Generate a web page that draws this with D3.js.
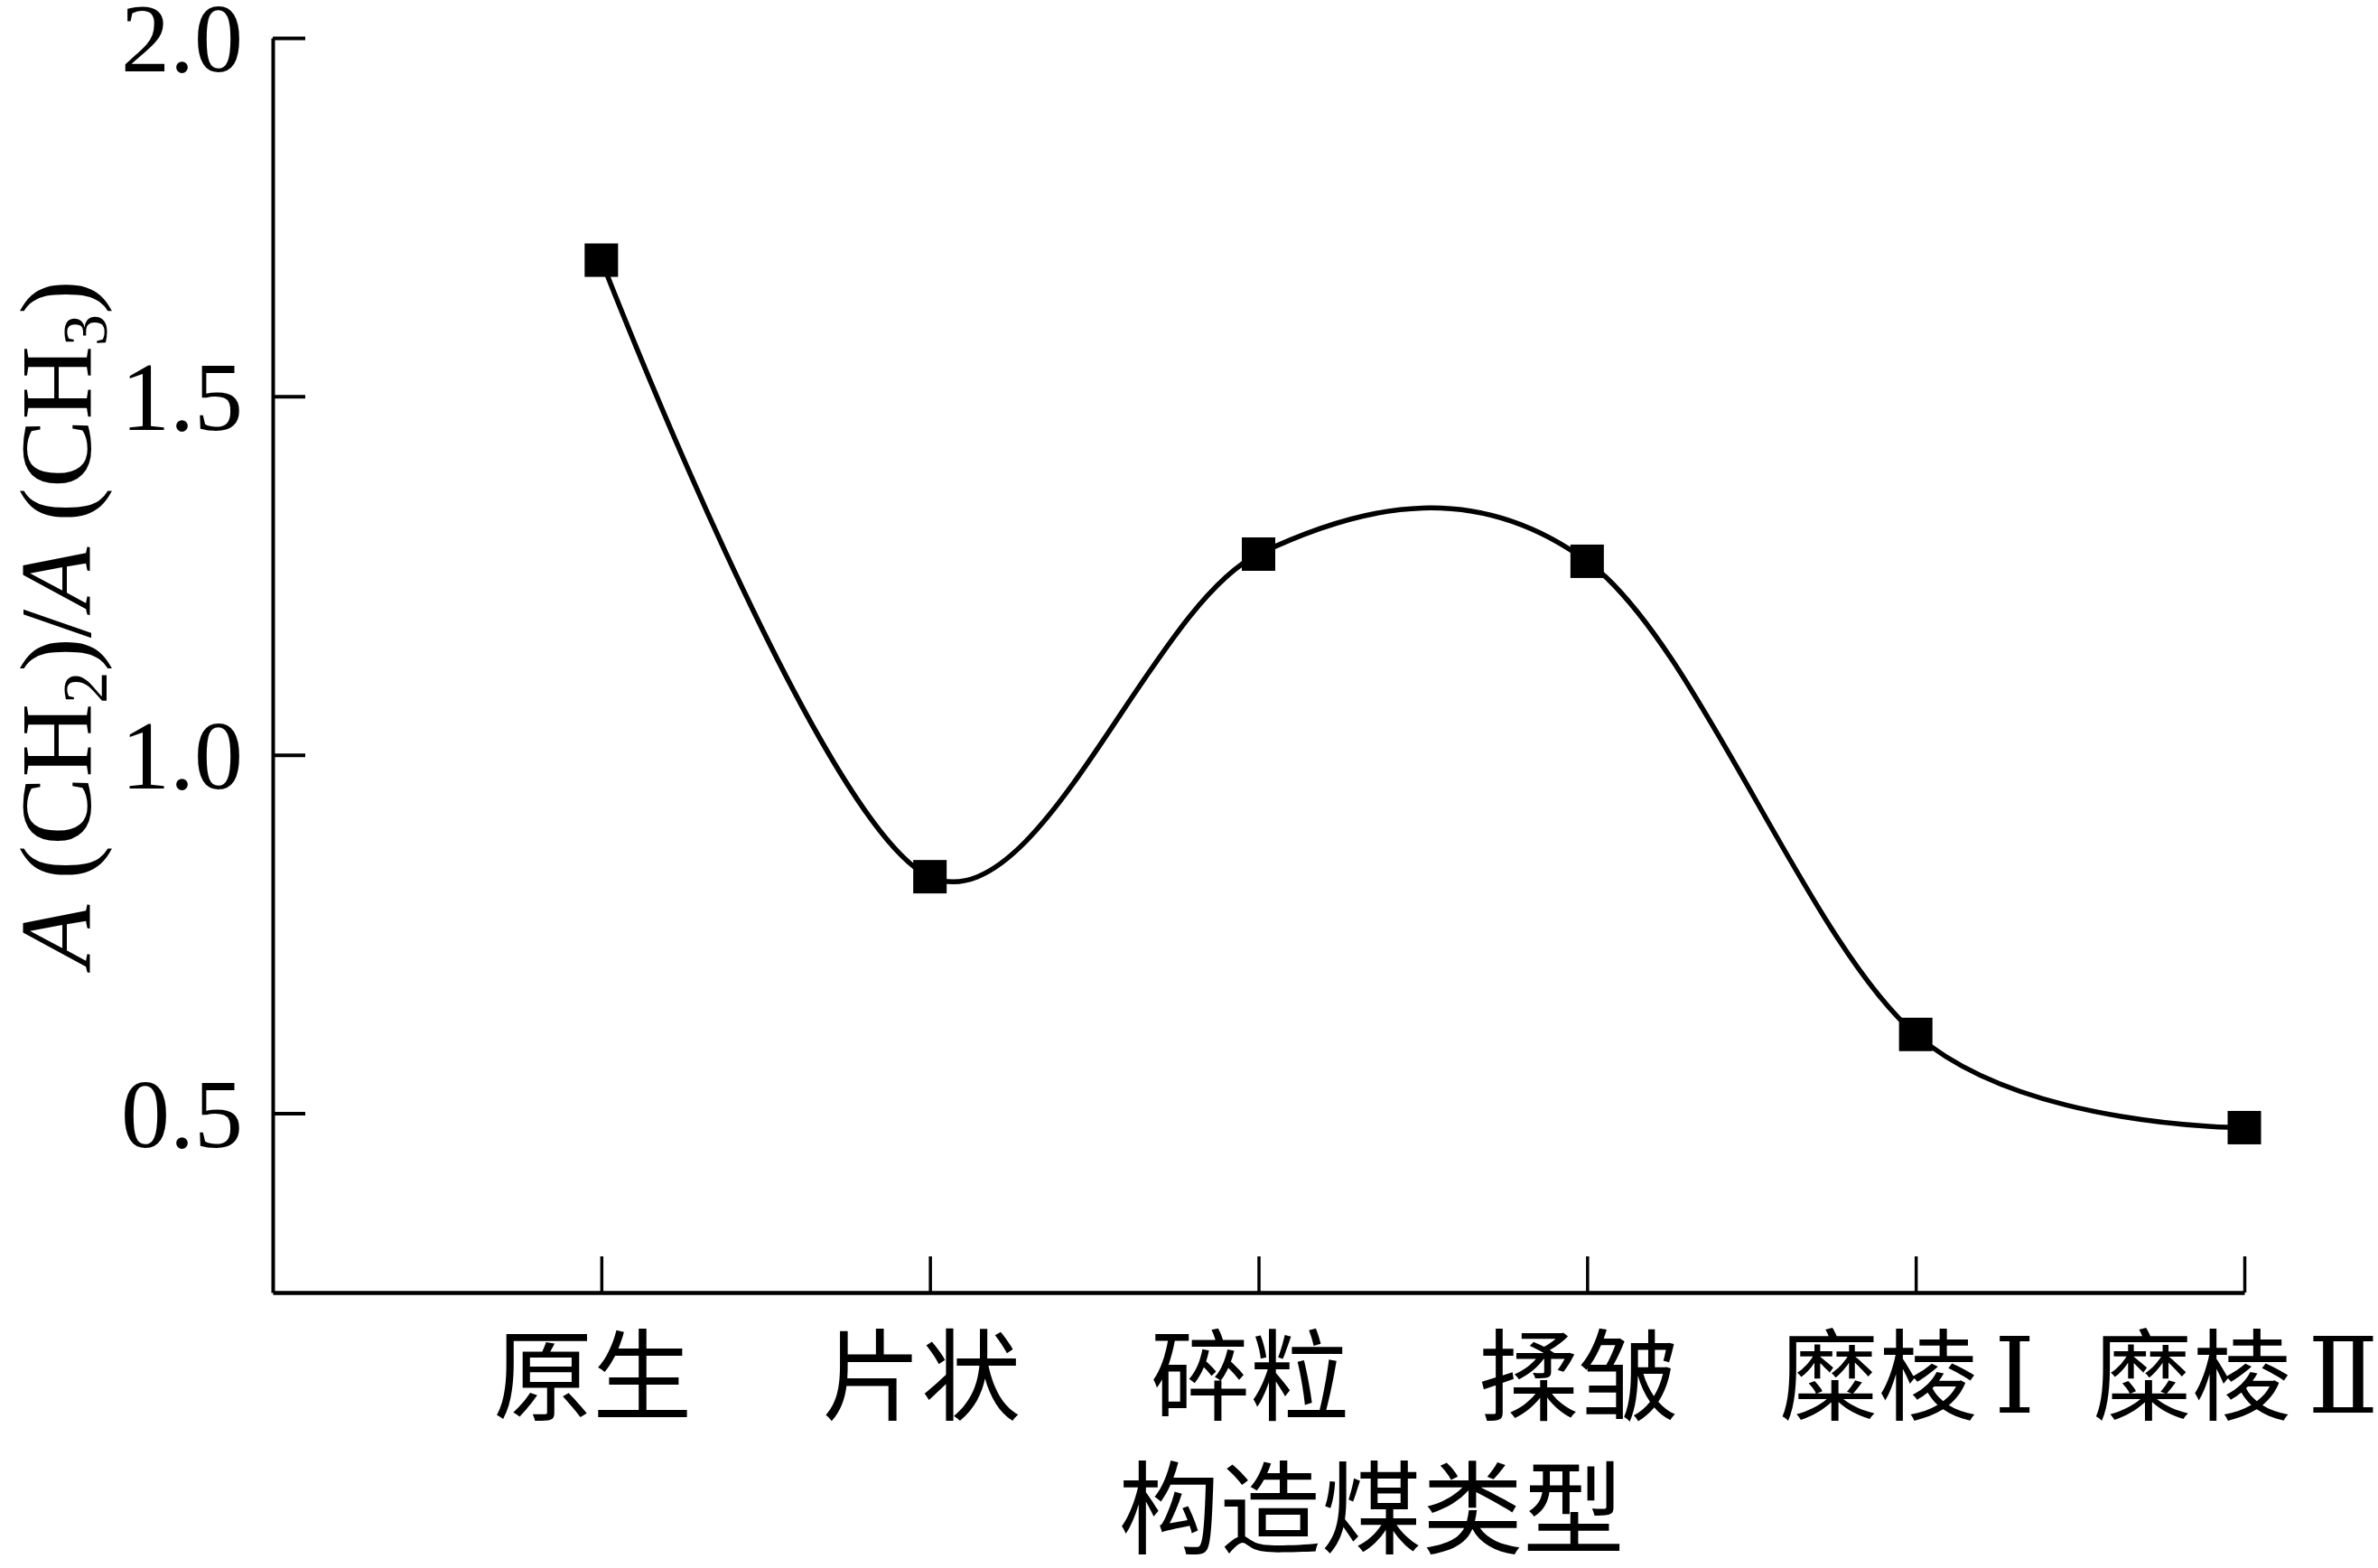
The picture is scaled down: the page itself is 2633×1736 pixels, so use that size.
<!DOCTYPE html>
<html>
<head>
<meta charset="utf-8">
<script src="https://cdn.jsdelivr.net/npm/d3@7"></script>
<style>
  html, body { margin: 0; padding: 0; background: #fff; }
  svg { display: block; }
</style>
</head>
<body>
<script>
// ---- data ----
const categories = ["原生", "片状", "碎粒", "揉皱", "糜棱Ⅰ", "糜棱Ⅱ"];
const ratioValues = [1.69, 0.83, 1.28, 1.27, 0.61, 0.48];
const yTickValues = [0.5, 1.0, 1.5, 2.0];
const yDomain = [0.25, 2.0];
const xTitle = "构造煤类型";

// ---- layout ----
const W = 2633, H = 1736;
const axisLeftX = 302, axisRightX = 2485;
const plotTop = 42, plotBottom = 1431;
const serif = "'Liberation Serif', 'Times New Roman', serif";
const cjk = "'Liberation Serif', 'DejaVu Serif', 'Noto Sans CJK SC', serif";

const svg = d3.select("body").append("svg")
  .attr("width", W).attr("height", H)
  .style("background", "#fff");

const x = d3.scalePoint().domain(categories)
  .range([axisLeftX, axisRightX]).padding(0.5).align(1);
const y = d3.scaleLinear().domain(yDomain).range([plotBottom, plotTop]);

// y axis
const gy = svg.append("g")
  .attr("transform", `translate(${axisLeftX},0)`)
  .call(d3.axisLeft(y).tickValues(yTickValues).tickFormat(d3.format(".1f"))
    .tickSizeInner(-36).tickSizeOuter(0).tickPadding(33));
gy.select(".domain").attr("stroke", "#000").attr("stroke-width", 4);
gy.selectAll(".tick line").attr("stroke", "#000").attr("stroke-width", 4);
gy.selectAll(".tick text")
  .attr("font-family", serif).attr("font-size", 108).attr("fill", "#000")
  .attr("dy", "0.34em");

// x axis
const gx = svg.append("g")
  .attr("transform", `translate(0,${plotBottom})`)
  .call(d3.axisBottom(x).tickSizeInner(-40).tickSizeOuter(0).tickPadding(0));
gx.select(".domain").attr("stroke", "#000").attr("stroke-width", 4.5);
gx.selectAll(".tick line").attr("stroke", "#000").attr("stroke-width", 3.5);
gx.selectAll(".tick text")
  .attr("font-family", cjk).attr("font-size", 110).attr("fill", "#000")
  .attr("x", -10)
  .attr("y", 133).attr("dy", 0)
  .each(function(d) {
    const m = d.match(/^(.*?)([ⅠⅡ])$/);
    if (m) {
      const t = d3.select(this).text(null);
      t.append("tspan").text(m[1]);
      t.append("tspan").attr("dx", 18).attr("font-size", 116).text(m[2]);
    }
  });

// series line
const pts = categories.map((c, i) => [x(c), y(ratioValues[i])]);
svg.append("path")
  .datum(pts)
  .attr("fill", "none").attr("stroke", "#000").attr("stroke-width", 5.5)
  .attr("d", d3.line().curve(d3.curveCardinal.tension(0)));

// markers
const ms = 37;
svg.append("g").selectAll("rect")
  .data(pts).join("rect")
  .attr("x", d => d[0] - ms / 2).attr("y", d => d[1] - ms / 2)
  .attr("width", ms).attr("height", ms).attr("fill", "#000");

// x title
svg.append("text")
  .attr("x", (axisLeftX + axisRightX) / 2 + 125).attr("y", 1712)
  .attr("text-anchor", "middle")
  .attr("font-family", cjk).attr("font-size", 112).attr("fill", "#000")
  .text(xTitle);

// y title
const yt = svg.append("text")
  .attr("transform", `translate(100,${(plotTop + plotBottom) / 2 - 46}) rotate(-90)`)
  .attr("text-anchor", "middle")
  .attr("font-family", serif).attr("font-size", 113).attr("fill", "#000");
yt.append("tspan").attr("font-style", "italic").text("A");
yt.append("tspan").text(" (CH");
yt.append("tspan").attr("font-size", 70).attr("dy", 18).text("2");
yt.append("tspan").attr("dy", -18).text(")/");
yt.append("tspan").attr("font-style", "italic").text("A");
yt.append("tspan").text(" (CH");
yt.append("tspan").attr("font-size", 70).attr("dy", 18).text("3");
yt.append("tspan").attr("dy", -18).text(")");
</script>
</body>
</html>
